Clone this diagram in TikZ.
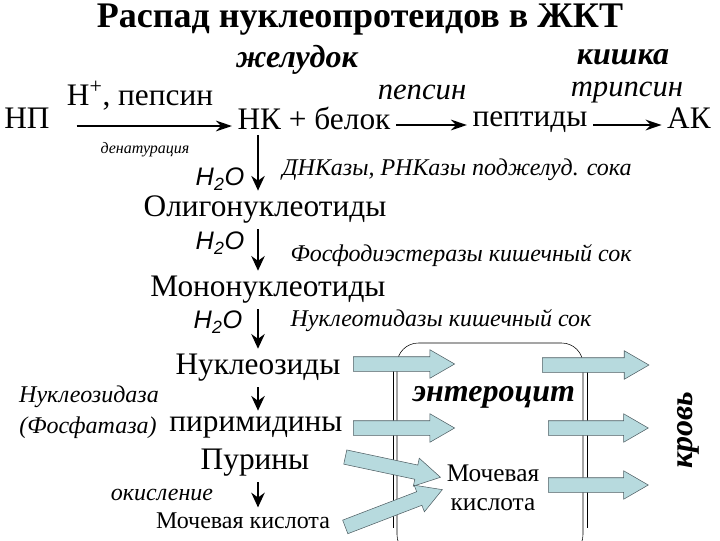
\documentclass[tikz,border=0pt]{standalone}
\usepackage{fontspec}
\setmainfont{Liberation Serif}
\newfontfamily\sansfont{Liberation Sans}
\usetikzlibrary{arrows.meta,shapes.arrows}

\definecolor{cellblue}{RGB}{183,218,222}
\definecolor{celledge}{RGB}{80,95,100}

\begin{document}
\begin{tikzpicture}[
  x=0.75pt, y=-0.75pt,
  main/.style={inner sep=0pt, font=\fontsize{23.5}{26}\selectfont},
  enz/.style={inner sep=0pt, font=\fontsize{18}{21}\selectfont\itshape},
  big enz/.style={inner sep=0pt, font=\fontsize{23}{25}\selectfont\itshape},
  organ/.style={inner sep=0pt, font=\fontsize{24}{26}\selectfont\bfseries\itshape},
  water/.style={inner sep=0pt, font=\fontsize{19}{21}\selectfont\sansfont\itshape},
  flow/.style={-{Stealth[length=12pt,width=8pt]}, line width=1.6pt, shorten <=4pt, shorten >=4pt},
  down/.style={-{Stealth[length=11pt,width=10pt]}, line width=2.2pt, shorten <=4pt, shorten >=4pt},
  pass/.style={single arrow, draw=celledge, fill=cellblue, thin, inner xsep=0pt,
               inner ysep=5.25pt, single arrow head extend=5.25pt,
               single arrow tip angle=60, anchor=tail}
]
\useasboundingbox (0,0) rectangle (720,540);
\clip (0,0) rectangle (720,540);

% title and organs
\node[font=\fontsize{27}{30}\selectfont\bfseries] (title) at (360,20) {Распад нуклеопротеидов в ЖКТ};
\node[organ] (stomach) at (297,60) {желудок};
\node[organ] (gut) at (623,57) {кишка};

% protein chain
\node[main] (np) at (27,118) {НП};
\node[main] (nkb) at (314,118) {НК + белок};
\node[main] (pep) at (530,122) {пептиды};
\node[main] (ak) at (689,118) {АК};
\node[main] (hpep) at (140,96) {H\textsuperscript{+}, пепсин};
\node[font=\fontsize{12}{13}\selectfont\itshape] (denat) at (145,150) {денатурация};
\node[big enz] (pepsin) at (422,92) {пепсин};
\node[big enz] (trypsin) at (627,93) {трипсин};
\draw[flow, shorten <=20pt] (np.east |- 0,126) -- (nkb.west |- 0,126);
\draw[flow] (nkb.east |- 0,125) -- (pep.west |- 0,125);
\draw[flow] (pep.east |- 0,125) -- (ak.west |- 0,125);

% nucleic acid chain
\coordinate (col) at (258,0);
\node[main] (oligo) at (265,210) {Олигонуклеотиды};
\node[main] (mono) at (268,290) {Мононуклеотиды};
\node[main] (nucl) at (258,368) {Нуклеозиды};
\node[main] (pyr) at (256,427) {пиримидины};
\node[main] (pur) at (255,463) {Пурины};
\node[main, font=\fontsize{18}{20}\selectfont] (uric) at (243,521) {Мочевая кислота};

\node[water] (w1) at (220,179) {H\textsubscript{2}O};
\node[water] (w2) at (220,243) {H\textsubscript{2}O};
\node[water] (w3) at (218,322) {H\textsubscript{2}O};
\node[enz] (e1) at (457,170) {ДНКазы, РНКазы поджелуд. сока};
\node[enz] (e2) at (461,256) {Фосфодиэстеразы кишечный сок};
\node[enz] (e3) at (441,321) {Нуклеотидазы кишечный сок};
\node[enz] (e4) at (89,397) {Нуклеозидаза};
\node[enz] (e5) at (88,428) {(Фосфатаза)};
\node[enz] (e6) at (162,495) {окисление};

\draw[down] (nkb.south -| col) -- (oligo.north -| col);
\draw[down] (oligo.south -| col) -- (mono.north -| col);
\draw[down] (mono.south -| col) -- (nucl.north -| col);
\draw[down] (nucl.south -| col) -- (pyr.north -| col);
\draw[down] (pur.south -| col) -- (uric.north -| col);

% enterocyte
\draw[thin, rounded corners=16pt] (397,343) rectangle (583,556);
\draw[thin] (393,365) -- (393,528);
\draw[thin] (587,365) -- (587,528);
\node[organ] (entero) at (494,397) {энтероцит};
\node[main, font=\fontsize{19}{22}\selectfont, align=center] (uric2) at (493,488) {Мочевая\\кислота};
\node[organ, rotate=90] (blood) at (688,430) {кровь};

\node[pass, minimum height=76pt] (in1) at (353,364) {};
\node[pass, minimum height=76pt] (in2) at (353,428) {};
\node[pass, minimum height=73pt, rotate=-12] (in3) at (345,457) {};
\node[pass, minimum height=78pt, rotate=21] (in4) at (345,527) {};
\node[pass, minimum height=80pt] (out1) at (542,365) {};
\node[pass, minimum height=75pt] (out2) at (548,428) {};
\node[pass, minimum height=75pt] (out3) at (548,485) {};
\end{tikzpicture}
\end{document}
